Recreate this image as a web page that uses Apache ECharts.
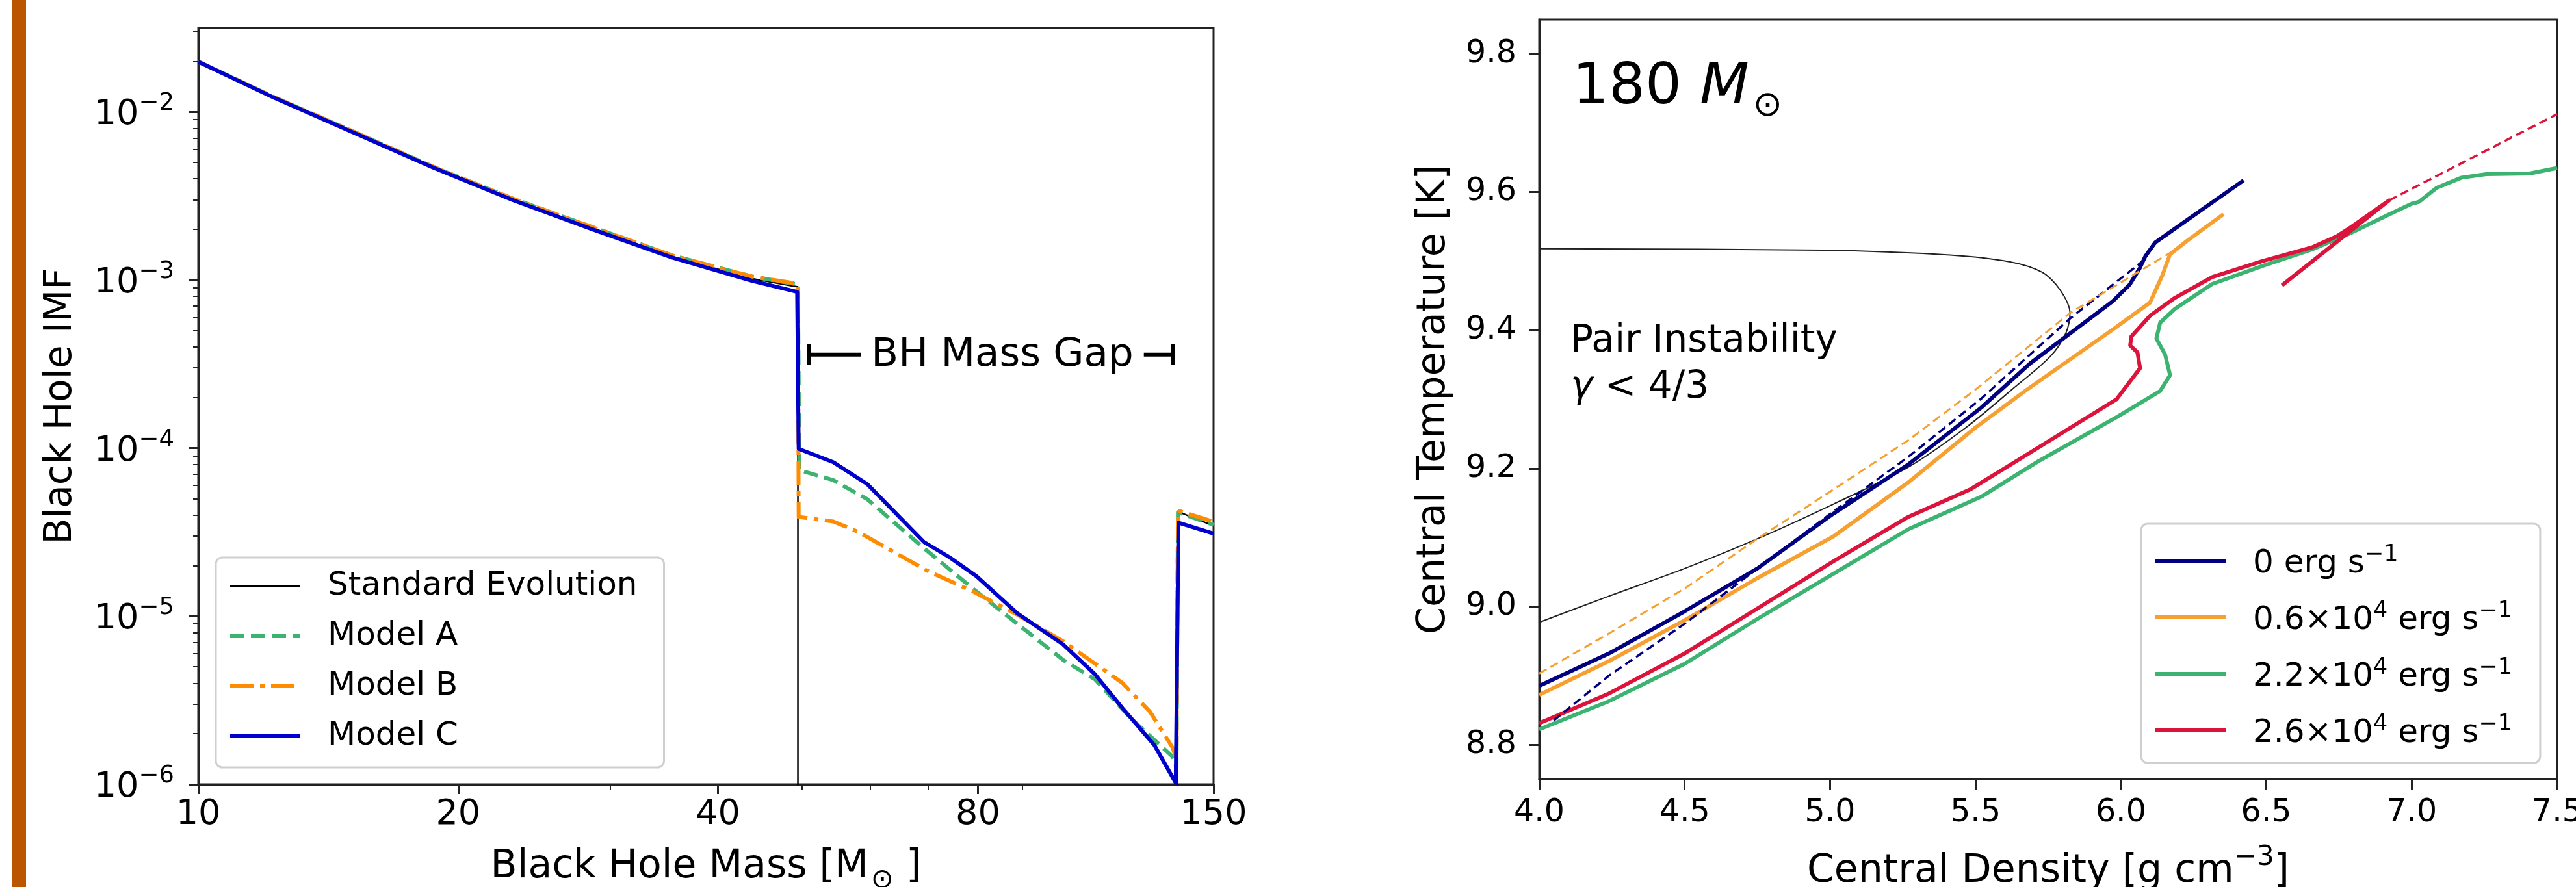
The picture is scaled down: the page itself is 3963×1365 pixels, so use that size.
<!DOCTYPE html>
<html>
<head>
<meta charset="utf-8">
<script src="https://cdn.jsdelivr.net/npm/echarts@6/dist/echarts.min.js"></script>
<style>
  html, body { margin: 0; padding: 0; background: #fff; }
  #chart { width: 3963px; height: 1365px; }
</style>
</head>
<body>
<div id="chart"></div>
<script>
const FONT = 'DejaVu Sans';

// ---- left panel: black hole IMF vs mass (log-log) ----
const massMajorTicks = [10, 20, 40, 80, 150];
const massMinorTicks = [30, 50, 60, 70, 90];
const imfMajorTicks = [1e-6, 1e-5, 1e-4, 1e-3, 1e-2];
const IMF_MAX = 0.0316;

// 1e-9 = "zero" inside the gap, falls below the axis and gets clipped
const imfStandard = [
  [10, 0.0199], [12.26, 0.0122], [15.16, 0.0076], [18.74, 0.0047], [23.17, 0.00302],
  [28.64, 0.00203], [35.4, 0.00138], [43.78, 0.00102], [49.5, 0.00091],
  [49.5, 1e-9], [136.3, 1e-9], [136.3, 4.2e-5], [150, 3.45e-5]
];
const imfModelA = [
  [10, 0.0199], [12.26, 0.0122], [15.16, 0.0076], [18.74, 0.0047], [23.17, 0.00304],
  [28.64, 0.00206], [35.4, 0.0014], [43.78, 0.00105], [49.5, 0.00094],
  [49.7, 7.4e-5], [54.4, 6.45e-5], [59.6, 4.96e-5], [68.9, 2.6e-5], [78.8, 1.47e-5],
  [88.9, 9.0e-6], [100.4, 5.5e-6], [109.4, 4.2e-6], [120.5, 2.45e-6], [134.5, 1.46e-6],
  [135.9, 1.25e-6], [136.4, 4.15e-5], [150, 3.5e-5]
];
const imfModelB = [
  [10, 0.0199], [12.26, 0.0122], [15.16, 0.0076], [18.74, 0.0047], [23.17, 0.00304],
  [28.64, 0.00206], [35.4, 0.0014], [43.78, 0.00105], [49.5, 0.00095],
  [49.6, 3.9e-5], [54.4, 3.66e-5], [58.1, 3.18e-5], [69.8, 1.87e-5], [78.8, 1.41e-5],
  [88.9, 1.02e-5], [100.4, 7.1e-6], [117.7, 4.0e-6], [126.6, 2.7e-6], [134.5, 1.65e-6],
  [135.9, 1.4e-6], [136.4, 4.25e-5], [150, 3.65e-5]
];
const imfModelC = [
  [10, 0.0199], [12.26, 0.0121], [15.16, 0.0075], [18.74, 0.00465], [23.17, 0.00298],
  [28.64, 0.002], [35.4, 0.00136], [43.78, 0.00099], [49.4, 0.00085],
  [49.6, 9.9e-5], [54.4, 8.25e-5], [59.6, 6.09e-5], [69.3, 2.76e-5], [74.1, 2.25e-5],
  [79.7, 1.73e-5], [88.9, 1.04e-5], [100.4, 6.8e-6], [109.4, 4.5e-6], [117.7, 2.83e-6],
  [128.1, 1.71e-6], [135.6, 1.02e-6], [136.6, 3.6e-5], [150, 3.1e-5]
];
const gapBracket = [[51, 3.6e-4], [134.5, 3.6e-4]];

// ---- right panel: central density vs central temperature ----
const tempTicks = [8.8, 9.0, 9.2, 9.4, 9.6, 9.8];
const pairBoundary = [
  [4.0, 8.977], [4.24, 9.015], [4.5, 9.055], [4.75, 9.098], [5.01, 9.148], [5.27, 9.202],
  [5.47, 9.26], [5.625, 9.314], [5.757, 9.362], [5.811, 9.396], [5.825, 9.425],
  [5.79, 9.459], [5.729, 9.484], [5.619, 9.499], [5.413, 9.509], [4.969, 9.516], [4.0, 9.518]
];
const track0 = [
  [4.0, 8.885], [4.24, 8.932], [4.5, 8.993], [4.75, 9.055], [5.01, 9.134], [5.27, 9.206],
  [5.52, 9.288], [5.688, 9.352], [5.972, 9.442], [6.03, 9.466], [6.065, 9.49], [6.084, 9.507],
  [6.118, 9.527], [6.229, 9.56], [6.422, 9.617]
];
const track0Dashed = [
  [4.05, 8.835], [4.24, 8.9], [4.5, 8.975], [4.75, 9.055], [5.01, 9.137], [5.27, 9.217],
  [5.52, 9.301], [5.825, 9.417], [6.075, 9.50]
];
const track06 = [
  [4.0, 8.872], [4.24, 8.921], [4.5, 8.98], [4.75, 9.041], [5.01, 9.101], [5.27, 9.18],
  [5.5, 9.259], [5.677, 9.314], [5.972, 9.401], [6.1, 9.44], [6.143, 9.48], [6.169, 9.51],
  [6.229, 9.53], [6.353, 9.568]
];
const track06Dashed = [
  [4.0, 8.903], [4.24, 8.961], [4.5, 9.026], [4.75, 9.098], [5.01, 9.169], [5.27, 9.241],
  [5.5, 9.314], [5.825, 9.425], [6.169, 9.512]
];
const track22 = [
  [4.0, 8.822], [4.24, 8.863], [4.5, 8.917], [4.75, 8.982], [5.01, 9.047], [5.27, 9.112],
  [5.52, 9.159], [5.715, 9.21], [5.985, 9.274], [6.135, 9.312], [6.169, 9.335],
  [6.152, 9.365], [6.122, 9.388], [6.135, 9.411], [6.186, 9.431], [6.314, 9.467],
  [6.486, 9.493], [6.657, 9.517], [6.786, 9.54], [6.914, 9.566], [6.999, 9.583],
  [7.025, 9.586], [7.085, 9.606], [7.171, 9.621], [7.256, 9.626], [7.405, 9.627], [7.5, 9.635]
];
const track26 = [
  [4.0, 8.831], [4.24, 8.874], [4.5, 8.932], [4.75, 8.997], [5.01, 9.065], [5.27, 9.13],
  [5.484, 9.17], [5.65, 9.213], [5.985, 9.30], [6.066, 9.345], [6.057, 9.368],
  [6.032, 9.378], [6.036, 9.391], [6.1, 9.421], [6.186, 9.447], [6.314, 9.477],
  [6.486, 9.50], [6.657, 9.52], [6.742, 9.536], [6.794, 9.55], [6.922, 9.588], [6.554, 9.465]
];
const track26Dashed = [[6.922, 9.588], [7.5, 9.713]];

const leftLegendNames = ['Standard Evolution', 'Model A', 'Model B', 'Model C'];
const rightLegendNames = ['0 erg/s', '0.6e4 erg/s', '2.2e4 erg/s', '2.6e4 erg/s'];
const rightLegendText = {
  '0 erg/s': '{n|0 erg s}{sup|−1}',
  '0.6e4 erg/s': '{n|0.6×10}{sup|4}{n| erg s}{sup|−1}',
  '2.2e4 erg/s': '{n|2.2×10}{sup|4}{n| erg s}{sup|−1}',
  '2.6e4 erg/s': '{n|2.6×10}{sup|4}{n| erg s}{sup|−1}'
};

const imfMinorTicks = [];
imfMajorTicks.forEach(d => {
  for (let k = 2; k <= 9; k++) {
    if (d * k < IMF_MAX) imfMinorTicks.push(d * k);
  }
});

function mkLine(name, data, xi, yi, color, width, dash, extra) {
  return Object.assign({
    name: name,
    type: 'line',
    data: data,
    xAxisIndex: xi,
    yAxisIndex: yi,
    symbol: 'none',
    showSymbol: false,
    clip: true,
    silent: true,
    lineStyle: { color: color, width: width, type: dash || 'solid', cap: 'butt', join: 'round' },
    itemStyle: { color: color },
    emphasis: { disabled: true }
  }, extra || {});
}

const spine = { color: '#222', width: 3 };
const noSplit = { show: false };

const chart = echarts.init(document.getElementById('chart'), null, { renderer: 'canvas' });

chart.setOption({
  animation: false,
  backgroundColor: '#fff',
  textStyle: { fontFamily: FONT },
  grid: [
    { left: 305, top: 43, width: 1562, height: 1164, show: true, borderColor: '#222', borderWidth: 3,
      containLabel: false, outerBoundsMode: 'none' },
    { left: 2368, top: 30, width: 1566, height: 1169, show: true, borderColor: '#222', borderWidth: 3,
      containLabel: false, outerBoundsMode: 'none' }
  ],
  xAxis: [
    {
      gridIndex: 0, type: 'log', logBase: 10, min: 10, max: 150, position: 'bottom',
      axisLine: { lineStyle: spine },
      axisTick: { length: 15, lineStyle: spine, customValues: massMajorTicks },
      axisLabel: { customValues: massMajorTicks, fontSize: 54, color: '#000', margin: 20, fontFamily: FONT },
      splitLine: noSplit,
      name: '{n|Black Hole Mass [M}{sub|⊙}{n| ]}',
      nameLocation: 'middle', nameGap: 97,
      nameTextStyle: {
        color: '#000', fontFamily: FONT, fontSize: 60,
        rich: {
          n: { fontSize: 60, fontFamily: FONT, color: '#000', lineHeight: 72, verticalAlign: 'top' },
          sub: { fontSize: 42, fontFamily: FONT, color: '#000', lineHeight: 50, verticalAlign: 'top', padding: [30, 0, 0, 4] }
        }
      }
    },
    {
      gridIndex: 0, type: 'log', logBase: 10, min: 10, max: 150, position: 'bottom',
      axisLine: { show: false },
      axisTick: { length: 8, lineStyle: { color: '#222', width: 2 }, customValues: massMinorTicks },
      axisLabel: { show: false },
      splitLine: noSplit
    },
    {
      gridIndex: 1, type: 'value', min: 4, max: 7.5, interval: 0.5, position: 'bottom',
      axisLine: { lineStyle: spine },
      axisTick: { length: 16, lineStyle: spine },
      axisLabel: { fontSize: 49, color: '#000', margin: 28, fontFamily: FONT, formatter: v => v.toFixed(1) },
      splitLine: noSplit,
      name: '{n|Central Density [g cm}{sup|−3}{n|]}',
      nameLocation: 'middle', nameGap: 100,
      nameTextStyle: {
        color: '#000', fontFamily: FONT, fontSize: 60,
        rich: {
          n: { fontSize: 60, fontFamily: FONT, color: '#000', lineHeight: 72, verticalAlign: 'bottom' },
          sup: { fontSize: 42, fontFamily: FONT, color: '#000', lineHeight: 46, verticalAlign: 'bottom', padding: [0, 0, 30, 0] }
        }
      }
    }
  ],
  yAxis: [
    {
      gridIndex: 0, type: 'log', logBase: 10, min: 1e-6, max: IMF_MAX, position: 'left',
      axisLine: { lineStyle: spine },
      axisTick: { length: 15, lineStyle: spine, customValues: imfMajorTicks },
      axisLabel: {
        customValues: imfMajorTicks, margin: 37, color: '#000',
        formatter: v => '{b|10}{s|−' + (-Math.round(Math.log10(v))) + '}',
        rich: {
          b: { fontSize: 54, fontFamily: FONT, color: '#000', lineHeight: 64, verticalAlign: 'bottom' },
          s: { fontSize: 37, fontFamily: FONT, color: '#000', lineHeight: 44, verticalAlign: 'bottom', padding: [0, 0, 26, 0] }
        }
      },
      splitLine: noSplit,
      name: 'Black Hole IMF', nameLocation: 'middle', nameGap: 182,
      nameTextStyle: { color: '#000', fontFamily: FONT, fontSize: 58 }
    },
    {
      gridIndex: 0, type: 'log', logBase: 10, min: 1e-6, max: IMF_MAX, position: 'left',
      axisLine: { show: false },
      axisTick: { length: 8, lineStyle: { color: '#222', width: 2 }, customValues: imfMinorTicks },
      axisLabel: { show: false },
      splitLine: noSplit
    },
    {
      gridIndex: 1, type: 'value', min: 8.75, max: 9.85, position: 'left',
      axisLine: { lineStyle: spine },
      axisTick: { length: 16, lineStyle: spine, customValues: tempTicks },
      axisLabel: { customValues: tempTicks, fontSize: 49, color: '#000', margin: 35, fontFamily: FONT,
        formatter: v => v.toFixed(1) },
      splitLine: noSplit,
      name: 'Central Temperature [K]', nameLocation: 'middle', nameGap: 132,
      nameTextStyle: { color: '#000', fontFamily: FONT, fontSize: 60 }
    }
  ],
  legend: [
    {
      data: leftLegendNames, orient: 'vertical', left: 332, top: 858,
      itemWidth: 107, itemHeight: 14, itemGap: 17,
      itemStyle: { opacity: 0 },
      lineStyle: { width: 'inherit', type: 'inherit' },
      padding: [14, 41, 18, 19],
      borderColor: '#cfcfcf', borderWidth: 3, borderRadius: 10,
      backgroundColor: 'rgba(255,255,255,0.8)',
      selectedMode: false,
      textStyle: { fontSize: 50, fontFamily: FONT, color: '#000', lineHeight: 60, padding: [0, 0, 0, 38] }
    },
    {
      data: rightLegendNames, orient: 'vertical', left: 3294, top: 806,
      itemWidth: 110, itemHeight: 14, itemGap: 30,
      itemStyle: { opacity: 0 },
      lineStyle: { width: 'inherit', type: 'inherit' },
      padding: [30, 43, 20, 18],
      borderColor: '#cfcfcf', borderWidth: 3, borderRadius: 10,
      backgroundColor: 'rgba(255,255,255,0.8)',
      selectedMode: false,
      formatter: name => rightLegendText[name],
      textStyle: {
        fontSize: 50, fontFamily: FONT, color: '#000', padding: [0, 0, 0, 36],
        rich: {
          n: { fontSize: 50, fontFamily: FONT, color: '#000', lineHeight: 60, verticalAlign: 'bottom' },
          sup: { fontSize: 35, fontFamily: FONT, color: '#000', lineHeight: 40, verticalAlign: 'bottom', padding: [0, 0, 22, 0] }
        }
      }
    }
  ],
  series: [
    mkLine('Standard Evolution', imfStandard, 0, 0, '#000000', 2.5),
    mkLine('Model A', imfModelA, 0, 0, '#3CB371', 6, [22, 10]),
    mkLine('Model B', imfModelB, 0, 0, '#FF8C00', 6, [36, 10, 7, 10]),
    mkLine('Model C', imfModelC, 0, 0, '#0000CD', 6),
    mkLine('gap', gapBracket, 0, 0, '#000000', 6, 'solid', {
      symbol: 'rect', showSymbol: true, symbolSize: [6, 32]
    }),

    mkLine('boundary', pairBoundary, 2, 2, '#222222', 2, 'solid', { smooth: 0.3 }),
    mkLine('0 erg/s', track0, 2, 2, '#000080', 6),
    mkLine('0.6e4 erg/s', track06, 2, 2, '#F5A030', 6),
    mkLine('2.2e4 erg/s', track22, 2, 2, '#3CB371', 6),
    mkLine('2.6e4 erg/s', track26, 2, 2, '#DC143C', 6),
    mkLine('0 dashed', track0Dashed, 2, 2, '#000080', 3.5, [13, 7]),
    mkLine('0.6e4 dashed', track06Dashed, 2, 2, '#F5A030', 3, [13, 7]),
    mkLine('2.6e4 dashed', track26Dashed, 2, 2, '#DC143C', 3.5, [13, 7])
  ],
  graphic: [
    { type: 'rect', shape: { x: 19, y: 0, width: 21, height: 1365 }, style: { fill: '#BA5500' }, z: 100 },
    {
      type: 'text', x: 1542, y: 547, z: 100,
      style: { text: 'BH Mass Gap', fontSize: 61, fontFamily: FONT, fill: '#000',
        align: 'center', verticalAlign: 'middle', backgroundColor: '#fff', padding: [4, 16] }
    },
    {
      type: 'text', x: 2419, y: 92, z: 100,
      style: {
        text: '{n|180 }{i|M}{s|⊙}', align: 'left', verticalAlign: 'top',
        rich: {
          n: { fontSize: 88, fontFamily: FONT, fill: '#000', lineHeight: 100, verticalAlign: 'top' },
          i: { fontSize: 88, fontFamily: FONT, fontStyle: 'italic', fill: '#000', lineHeight: 100, verticalAlign: 'top' },
          s: { fontSize: 54, fontFamily: FONT, fill: '#000', lineHeight: 60, verticalAlign: 'top', padding: [45, 0, 0, 6] }
        }
      }
    },
    {
      type: 'text', x: 2416, y: 526, z: 100,
      style: { text: 'Pair Instability', fontSize: 58, fontFamily: FONT, fill: '#000',
        align: 'left', verticalAlign: 'middle' }
    },
    {
      type: 'text', x: 2416, y: 597, z: 100,
      style: {
        text: '{g|γ}{n| < 4/3}', align: 'left', verticalAlign: 'middle',
        rich: {
          g: { fontSize: 58, fontFamily: FONT, fontStyle: 'italic', fill: '#000' },
          n: { fontSize: 58, fontFamily: FONT, fill: '#000' }
        }
      }
    }
  ]
});
</script>
</body>
</html>
